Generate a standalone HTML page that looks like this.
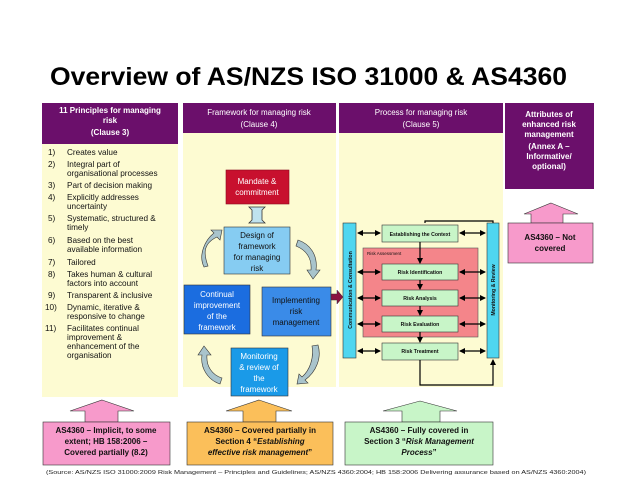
<!DOCTYPE html>
<html><head><meta charset="utf-8"><style>
html,body{margin:0;padding:0;background:#fff;}
svg{display:block;font-family:"Liberation Sans",Arial,sans-serif;}
</style></head><body>
<svg width="638" height="479" viewBox="0 0 638 479" xmlns="http://www.w3.org/2000/svg">
<defs>
<marker id="ah" markerWidth="6" markerHeight="6" refX="5" refY="3" orient="auto" markerUnits="userSpaceOnUse"><path d="M0,0 L6,3 L0,6 z" fill="#000"/></marker>
<marker id="as" markerWidth="6" markerHeight="6" refX="1" refY="3" orient="auto" markerUnits="userSpaceOnUse"><path d="M6,0 L0,3 L6,6 z" fill="#000"/></marker>
</defs>
<text x="50" y="85" font-size="25" font-weight="bold" textLength="517" lengthAdjust="spacingAndGlyphs">Overview of AS/NZS ISO 31000 &amp; AS4360</text>

<rect x="42" y="144" width="136" height="253" fill="#fdfbd2"/>
<rect x="183" y="133" width="153" height="254" fill="#fdfbd2"/>
<rect x="339" y="133" width="164" height="254" fill="#fdfbd2"/>

<rect x="42" y="103" width="136" height="41" fill="#6b0f6b"/>
<g fill="#fff" font-size="8" font-weight="bold" text-anchor="middle">
<text x="110" y="113">11 Principles for managing</text><text x="110" y="123">risk</text><text x="110" y="135">(Clause 3)</text></g>
<rect x="183" y="103" width="153" height="30" fill="#6b0f6b"/>
<g fill="#fff" font-size="8" text-anchor="middle"><text x="259" y="115">Framework for managing risk</text><text x="259" y="127">(Clause 4)</text></g>
<rect x="339" y="103" width="164" height="30" fill="#6b0f6b"/>
<g fill="#fff" font-size="8" text-anchor="middle"><text x="421" y="115">Process for managing risk</text><text x="421" y="127">(Clause 5)</text></g>
<rect x="505" y="103" width="89" height="86" fill="#6b0f6b"/>
<g fill="#fff" font-size="8" font-weight="bold" text-anchor="middle"><text x="549" y="117">Attributes of</text><text x="549" y="127">enhanced risk</text><text x="549" y="137">management</text><text x="549" y="149">(Annex A –</text><text x="549" y="159">Informative/</text><text x="549" y="169">optional)</text></g>

<g font-size="8.2" fill="#111">
<text x="48" y="155">1)</text><text x="67" y="155">Creates value</text>
<text x="48" y="167">2)</text><text x="67" y="167">Integral part of</text><text x="67" y="176">organisational processes</text>
<text x="48" y="188">3)</text><text x="67" y="188">Part of decision making</text>
<text x="48" y="200">4)</text><text x="67" y="200">Explicitly addresses</text><text x="67" y="209">uncertainty</text>
<text x="48" y="221">5)</text><text x="67" y="221">Systematic, structured &amp;</text><text x="67" y="230">timely</text>
<text x="48" y="243">6)</text><text x="67" y="243">Based on the best</text><text x="67" y="252">available information</text>
<text x="48" y="265">7)</text><text x="67" y="265">Tailored</text>
<text x="48" y="277">8)</text><text x="67" y="277">Takes human &amp; cultural</text><text x="67" y="286">factors into account</text>
<text x="48" y="298">9)</text><text x="67" y="298">Transparent &amp; inclusive</text>
<text x="45" y="310">10)</text><text x="67" y="310">Dynamic, iterative &amp;</text><text x="67" y="319">responsive to change</text>
<text x="45" y="331">11)</text><text x="67" y="331">Facilitates continual</text><text x="67" y="340">improvement &amp;</text><text x="67" y="349">enhancement of the</text><text x="67" y="358">organisation</text>
</g>

<rect x="226" y="170" width="63" height="34" fill="#c8102e" stroke="#8a0a1e" stroke-width="0.6"/>
<g fill="#fff" font-size="8" text-anchor="middle"><text x="257" y="184">Mandate &amp;</text><text x="257" y="195">commitment</text></g>
<path d="M249,207 h16 l-3,3 v10 l3,3 h-16 l3,-3 v-10 z" fill="#bfe3ee" stroke="#333" stroke-width="0.8"/>
<rect x="224" y="227" width="66" height="47" fill="#86ccf2" stroke="#333" stroke-width="0.6"/>
<g fill="#111" font-size="8" text-anchor="middle"><text x="257" y="238">Design of</text><text x="257" y="249">framework</text><text x="257" y="260">for managing</text><text x="257" y="271">risk</text></g>
<rect x="184" y="285" width="66" height="49" fill="#1b6de0" stroke="#333" stroke-width="0.6"/>
<g fill="#fff" font-size="8" text-anchor="middle"><text x="217" y="297">Continual</text><text x="217" y="308">improvement</text><text x="217" y="319">of the</text><text x="217" y="330">framework</text></g>
<rect x="262" y="287" width="69" height="49" fill="#3a8be8" stroke="#333" stroke-width="0.6"/>
<g fill="#111" font-size="8" text-anchor="middle"><text x="296" y="303">Implementing</text><text x="296" y="314">risk</text><text x="296" y="325">management</text></g>
<rect x="231" y="348" width="57" height="48" fill="#1a9ae8" stroke="#333" stroke-width="0.6"/>
<g fill="#fff" font-size="8" text-anchor="middle"><text x="259" y="359">Monitoring</text><text x="259" y="370">&amp; review of</text><text x="259" y="381">the</text><text x="259" y="392">framework</text></g>
<g fill="#a9c4cc" stroke="#333" stroke-width="0.6">
<path d="M204,267 C198,255 205,240 214,233 l-3,-3 l11,0 l-2,10 l-3,-3 C202,244 204,255 208,266 z"/>
<path d="M298,240 C310,244 318,255 316,270 l4,0 l-7,9 l-6,-9 l4,0 C312,258 306,250 296,246 z"/>
<path d="M318,345 C322,358 316,372 305,380 l3,3 l-11,1 l2,-10 l3,3 C310,370 314,358 312,346 z"/>
<path d="M220,384 C208,380 200,368 202,355 l-4,0 l6,-9 l7,9 l-4,0 C206,366 212,375 222,378 z"/>
</g>
<path d="M331,294 h6 v-4 l6,7 l-6,7 v-4 h-6 z" fill="#8a1040" stroke="#333" stroke-width="0.5"/>

<rect x="363" y="248" width="115" height="89" fill="#f4858a" stroke="#555" stroke-width="0.6"/>
<text x="367" y="255" font-size="4.5" fill="#111">Risk Assessment</text>
<rect x="343" y="223" width="13" height="135" fill="#4fd6f0" stroke="#333" stroke-width="0.6"/>
<rect x="487" y="223" width="12" height="135" fill="#4fd6f0" stroke="#333" stroke-width="0.6"/>
<text transform="translate(352,290) rotate(-90)" text-anchor="middle" font-size="5.2" font-weight="bold" fill="#111">Communication &amp; Consultation</text>
<text transform="translate(495,290) rotate(-90)" text-anchor="middle" font-size="5.2" font-weight="bold" fill="#111">Monitoring &amp; Review</text>
<g fill="#c8f5c8" stroke="#333" stroke-width="0.6">
<rect x="382" y="225" width="76" height="17"/>
<rect x="382" y="264" width="76" height="16"/>
<rect x="382" y="290" width="76" height="16"/>
<rect x="382" y="316" width="76" height="16"/>
<rect x="382" y="343" width="76" height="17"/>
</g>
<g font-size="5.2" font-weight="bold" text-anchor="middle" fill="#111">
<text x="420" y="236">Establishing the Context</text>
<text x="420" y="274">Risk Identification</text>
<text x="420" y="300">Risk Analysis</text>
<text x="420" y="326">Risk Evaluation</text>
<text x="420" y="353">Risk Treatment</text>
</g>
<g stroke="#000" stroke-width="1.2" fill="none">
<line x1="358" y1="233" x2="380" y2="233" marker-start="url(#as)" marker-end="url(#ah)"/>
<line x1="460" y1="233" x2="485" y2="233" marker-start="url(#as)" marker-end="url(#ah)"/>
<line x1="358" y1="272" x2="380" y2="272" marker-start="url(#as)" marker-end="url(#ah)"/>
<line x1="460" y1="272" x2="485" y2="272" marker-start="url(#as)" marker-end="url(#ah)"/>
<line x1="358" y1="298" x2="380" y2="298" marker-start="url(#as)" marker-end="url(#ah)"/>
<line x1="460" y1="298" x2="485" y2="298" marker-start="url(#as)" marker-end="url(#ah)"/>
<line x1="358" y1="324" x2="380" y2="324" marker-start="url(#as)" marker-end="url(#ah)"/>
<line x1="460" y1="324" x2="485" y2="324" marker-start="url(#as)" marker-end="url(#ah)"/>
<line x1="358" y1="351" x2="380" y2="351" marker-start="url(#as)" marker-end="url(#ah)"/>
<line x1="460" y1="351" x2="485" y2="351" marker-start="url(#as)" marker-end="url(#ah)"/>
<line x1="420" y1="242" x2="420" y2="263" marker-end="url(#ah)"/>
<line x1="420" y1="280" x2="420" y2="289" marker-end="url(#ah)"/>
<line x1="420" y1="306" x2="420" y2="315" marker-end="url(#ah)"/>
<line x1="420" y1="332" x2="420" y2="342" marker-end="url(#ah)"/>
<polyline points="420,360 420,385 493,385 493,360" marker-end="url(#ah)"/>
<polyline points="493,223 493,221 425,221 425,223"/>
</g>

<path d="M551,203 L578,214 H563 V223 H531 V214 H524 Z" fill="#f79acb" stroke="#333" stroke-width="0.6"/>
<rect x="508" y="223" width="85" height="40" fill="#f79acb" stroke="#333" stroke-width="0.6"/>
<g font-size="8" font-weight="bold" text-anchor="middle" fill="#111"><text x="550" y="240">AS4360 – Not</text><text x="550" y="251">covered</text></g>

<path d="M102,400 L134,411 H118 V422 H85 V411 H70 Z" fill="#f79acb" stroke="#333" stroke-width="0.6"/>
<rect x="43" y="422" width="127" height="43" fill="#f79acb" stroke="#333" stroke-width="0.6"/>
<g font-size="8" font-weight="bold" text-anchor="middle" fill="#111"><text x="106" y="433">AS4360 – Implicit, to some</text><text x="106" y="444">extent; HB 158:2006 –</text><text x="106" y="455">Covered partially (8.2)</text></g>

<path d="M259,400 L292,411 H276 V422 H243 V411 H226 Z" fill="#fbbf5a" stroke="#333" stroke-width="0.6"/>
<rect x="187" y="422" width="146" height="43" fill="#fbbf5a" stroke="#333" stroke-width="0.6"/>
<g font-size="8" font-weight="bold" text-anchor="middle" fill="#111"><text x="260" y="433">AS4360 – Covered partially in</text><text x="260" y="444">Section 4 “<tspan font-style="italic">Establishing</tspan></text><text x="260" y="455"><tspan font-style="italic">effective risk management</tspan>”</text></g>

<path d="M420,401 L457,411 H440 V422 H402 V411 H383 Z" fill="#c8f5c8" stroke="#333" stroke-width="0.6"/>
<rect x="345" y="422" width="148" height="43" fill="#c8f5c8" stroke="#333" stroke-width="0.6"/>
<g font-size="8" font-weight="bold" text-anchor="middle" fill="#111"><text x="419" y="433">AS4360 – Fully covered in</text><text x="419" y="444">Section 3 “<tspan font-style="italic">Risk Management</tspan></text><text x="419" y="455"><tspan font-style="italic">Process</tspan>”</text></g>

<text x="46" y="474" font-size="5.6" fill="#222" textLength="540" lengthAdjust="spacingAndGlyphs">(Source: AS/NZS ISO 31000:2009 Risk Management – Principles and Guidelines; AS/NZS 4360:2004; HB 158:2006 Delivering assurance based on AS/NZS 4360:2004)</text>
</svg>
</body></html>
